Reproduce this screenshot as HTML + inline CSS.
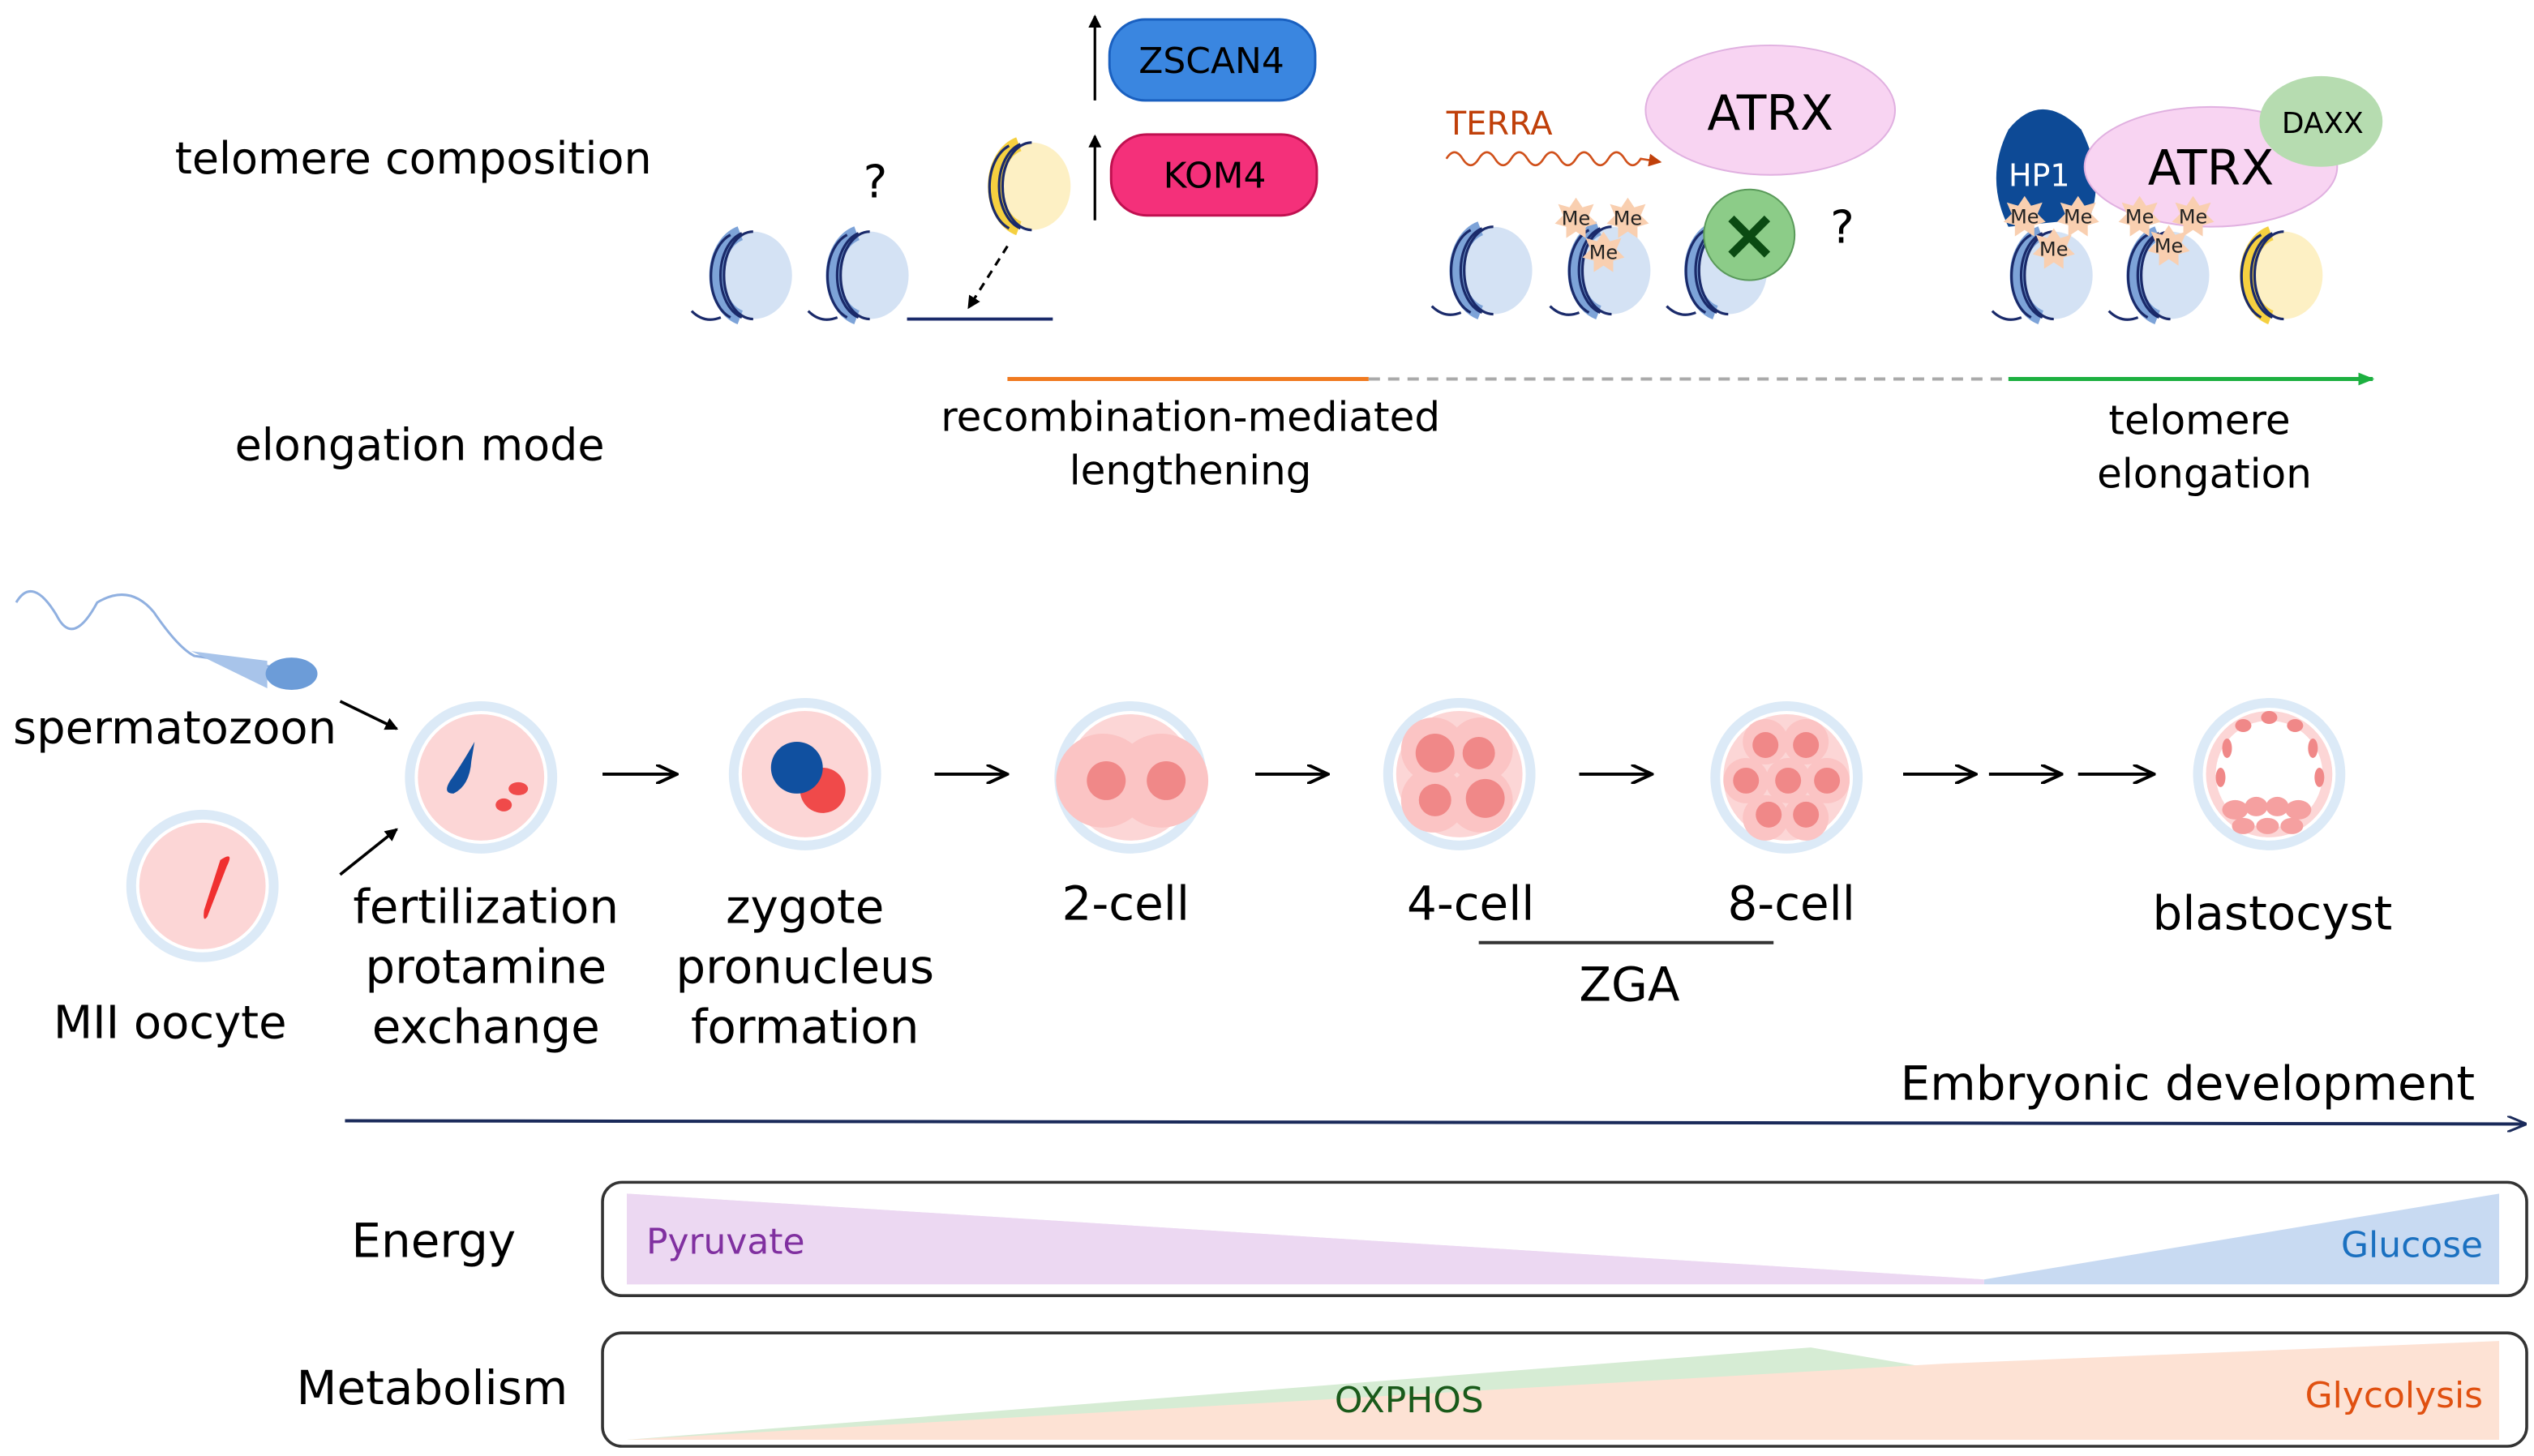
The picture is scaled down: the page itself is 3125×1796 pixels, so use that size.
<!DOCTYPE html>
<html><head><meta charset="utf-8"><style>
html,body{margin:0;padding:0;background:#fff;}
svg{display:block}
text{font-family:"DejaVu Sans","Liberation Sans",sans-serif;}
</style></head><body>
<svg width="3125" height="1796" viewBox="0 0 1564.5 899" preserveAspectRatio="none" xmlns="http://www.w3.org/2000/svg">
<defs>
<marker id="ah" markerWidth="8" markerHeight="8" refX="7" refY="4" orient="auto" markerUnits="userSpaceOnUse"><path d="M0,0 L8,4 L0,8 z" fill="#000"/></marker>
<marker id="ahn" markerWidth="12" markerHeight="10" refX="11" refY="5" orient="auto" markerUnits="userSpaceOnUse"><path d="M0,0 L12,5 L0,10" fill="none" stroke="#1a2a5a" stroke-width="1.5"/></marker>
<marker id="ahg" markerWidth="10" markerHeight="8" refX="9" refY="4" orient="auto" markerUnits="userSpaceOnUse"><path d="M0,0 L10,4 L0,8 z" fill="#1db040"/></marker>
<marker id="aho" markerWidth="8" markerHeight="8" refX="7" refY="4" orient="auto" markerUnits="userSpaceOnUse"><path d="M0,0 L8,4 L0,8 z" fill="#c0400a"/></marker>
<marker id="ahl" markerWidth="14" markerHeight="12" refX="13" refY="6" orient="auto" markerUnits="userSpaceOnUse"><path d="M0,0 L13,6 L0,12" fill="none" stroke="#000" stroke-width="2"/></marker>
<g id="nuc">
<ellipse cx="0" cy="0" rx="24" ry="27" fill="#d4e2f4"/>
<path d="M-8,-26 A20,27 0 0 0 -8,26" fill="none" stroke="#7da3d8" stroke-width="9"/>
<path d="M-14,-25 A18,27 0 0 0 -14,26 M-7,-26 A18,27 0 0 0 -7,26 M0,-27 A18,27 0 0 0 0,27" fill="none" stroke="#1a2a6a" stroke-width="1.6"/>
<path d="M-38,22 Q-30,30 -20,26" fill="none" stroke="#1a2a6a" stroke-width="1.6"/>
</g>
<g id="ynuc">
<ellipse cx="0" cy="0" rx="24" ry="27" fill="#fdf0c4"/>
<path d="M-8,-26 A20,27 0 0 0 -8,26" fill="none" stroke="#f5d040" stroke-width="9"/>
<path d="M-14,-25 A18,27 0 0 0 -14,26 M-7,-26 A18,27 0 0 0 -7,26 M0,-27 A18,27 0 0 0 0,27" fill="none" stroke="#1a2a6a" stroke-width="1.6"/>
</g>
<g id="me"><polygon points="0,-13 4,-7 11,-9 8,-2 13,3 6,5 6,12 0,8 -6,12 -6,5 -13,3 -8,-2 -11,-9 -4,-7" fill="#f9cfb0"/><text x="0" y="4" font-size="12" text-anchor="middle" fill="#222">Me</text></g>
<g id="cellbase"><circle r="47" fill="#dceaf7"/><circle r="41" fill="#fff"/><circle r="39" fill="#fcd6d6"/></g>
</defs>

<!-- top labels -->
<text x="108" y="107" font-size="27">telomere composition</text>
<text x="145" y="284" font-size="27">elongation mode</text>

<!-- left nucleosomes -->
<use href="#nuc" x="465" y="170"/>
<use href="#nuc" x="537" y="170"/>
<path d="M560,197 L650,197" stroke="#1a2a6a" stroke-width="2"/>
<use href="#ynuc" x="637" y="115"/>
<text x="533" y="122" font-size="28">?</text>
<path d="M622,152 L598,190" stroke="#000" stroke-width="1.6" stroke-dasharray="5,4" marker-end="url(#ah)"/>
<path d="M676,62 L676,10" stroke="#000" stroke-width="1.6" marker-end="url(#ah)"/>
<path d="M676,136 L676,84" stroke="#000" stroke-width="1.6" marker-end="url(#ah)"/>
<rect x="685" y="12" width="127" height="50" rx="22" fill="#3a86e0" stroke="#1a60c0" stroke-width="1.5"/>
<text x="748" y="45" font-size="22" text-anchor="middle">ZSCAN4</text>
<rect x="686" y="83" width="127" height="50" rx="22" fill="#f4307a" stroke="#c01050" stroke-width="1.5"/>
<text x="750" y="116" font-size="22" text-anchor="middle">KOM4</text>

<!-- middle -->
<text x="893" y="83" font-size="20" fill="#c0400a">TERRA</text>
<path d="M893,98 q5,-8 10,0 t10,0 t10,0 t10,0 t10,0 t10,0 t10,0 t10,0 t10,0 t10,0 t10,0 t10,0 L1025,100" fill="none" stroke="#d0501a" stroke-width="1.3" marker-end="url(#aho)"/>
<ellipse cx="1093" cy="68" rx="77" ry="40" fill="#f8d4f2" stroke="#e0b0e0"/>
<text x="1093" y="80" font-size="30" text-anchor="middle">ATRX</text>
<use href="#nuc" x="922" y="167"/>
<use href="#nuc" x="995" y="167"/>
<use href="#nuc" x="1067" y="167"/>
<use href="#me" x="973" y="135"/><use href="#me" x="1005" y="135"/><use href="#me" x="990" y="156"/>
<circle cx="1080" cy="145" r="28" fill="#8ccc88" stroke="#5a9a5a"/>
<text x="1080" y="160" font-size="44" font-weight="bold" text-anchor="middle" fill="#0a4a12">×</text>
<text x="1130" y="150" font-size="28">?</text>

<!-- right -->
<use href="#nuc" x="1268" y="170"/>
<use href="#nuc" x="1340" y="170"/>
<use href="#ynuc" x="1410" y="170"/>
<path d="M1240,80 Q1260,55 1285,80 Q1300,110 1290,135 L1240,140 Q1225,110 1240,80z" fill="#0d4a96"/>
<ellipse cx="1365" cy="103" rx="78" ry="37" fill="#f8d4f2" stroke="#e0b0e0"/>
<ellipse cx="1433" cy="75" rx="38" ry="28" fill="#b6dcb0"/>
<text x="1259" y="115" font-size="19" fill="#fff" text-anchor="middle">HP1</text>
<text x="1365" y="114" font-size="30" text-anchor="middle">ATRX</text>
<text x="1434" y="82" font-size="18" text-anchor="middle">DAXX</text>
<use href="#me" x="1250" y="134"/><use href="#me" x="1283" y="134"/><use href="#me" x="1268" y="154"/>
<use href="#me" x="1321" y="134"/><use href="#me" x="1354" y="134"/><use href="#me" x="1339" y="152"/>

<!-- elongation line -->
<path d="M622,234 L845,234" stroke="#f07a20" stroke-width="2.5"/>
<path d="M845,234 L1240,234" stroke="#aaa" stroke-width="2" stroke-dasharray="7,5"/>
<path d="M1240,234 L1465,234" stroke="#1db040" stroke-width="2.5" marker-end="url(#ahg)"/>
<text x="735" y="266" font-size="25" text-anchor="middle">recombination-mediated</text>
<text x="735" y="299" font-size="25" text-anchor="middle">lengthening</text>
<text x="1358" y="268" font-size="25" text-anchor="middle">telomere</text>
<text x="1361" y="301" font-size="25" text-anchor="middle">elongation</text>

<!-- sperm -->
<path d="M10,372 Q20,355 35,380 Q45,400 60,372 Q80,360 95,378 Q110,400 120,405 L170,412" fill="none" stroke="#90b0e0" stroke-width="1.5"/>
<path d="M118,402 L165,408 L165,425 Z" fill="#a8c4ea"/>
<ellipse cx="180" cy="416" rx="16" ry="10" fill="#6c9cd8"/>
<text x="8" y="459" font-size="28">spermatozoon</text>
<path d="M210,433 L245,450" stroke="#000" stroke-width="1.8" marker-end="url(#ah)"/>
<path d="M210,540 L245,512" stroke="#000" stroke-width="1.8" marker-end="url(#ah)"/>

<!-- MII oocyte -->
<use href="#cellbase" x="125" y="547"/>
<path d="M136,531 Q145,525 140,535 L128,566 Q125,570 126,562 Z" fill="#f03030"/>
<text x="105" y="641" font-size="28" text-anchor="middle">MII oocyte</text>

<!-- cells -->
<use href="#cellbase" x="297" y="480"/>
<path d="M293,458 Q285,472 278,482 Q273,490 280,490 Q290,485 291,470 Z" fill="#1050a0"/>
<ellipse cx="320" cy="487" rx="6" ry="4" fill="#f04a4a"/><ellipse cx="311" cy="497" rx="5" ry="4" fill="#f04a4a"/>

<use href="#cellbase" x="497" y="478"/>
<circle cx="508" cy="488" r="14" fill="#f04a4a"/>
<circle cx="492" cy="474" r="16" fill="#1050a0"/>

<use href="#cellbase" x="698" y="480"/>
<circle cx="681" cy="482" r="29" fill="#fbc4c4"/><circle cx="717" cy="482" r="29" fill="#fbc4c4"/>
<circle cx="683" cy="482" r="12" fill="#f08888"/><circle cx="720" cy="482" r="12" fill="#f08888"/>

<use href="#cellbase" x="901" y="478"/>
<circle cx="885" cy="463" r="20" fill="#fbc4c4"/><circle cx="914" cy="463" r="20" fill="#fbc4c4"/>
<circle cx="885" cy="494" r="20" fill="#fbc4c4"/><circle cx="914" cy="494" r="20" fill="#fbc4c4"/>
<circle cx="886" cy="465" r="12" fill="#f08888"/><circle cx="913" cy="465" r="10" fill="#f08888"/>
<circle cx="886" cy="494" r="10" fill="#f08888"/><circle cx="917" cy="493" r="12" fill="#f08888"/>

<use href="#cellbase" x="1103" y="480"/>
<g fill="#fbc4c4"><circle cx="1090" cy="458" r="14"/><circle cx="1115" cy="458" r="14"/><circle cx="1078" cy="482" r="14"/><circle cx="1104" cy="482" r="14"/><circle cx="1128" cy="482" r="14"/><circle cx="1090" cy="505" r="14"/><circle cx="1115" cy="505" r="14"/></g>
<g fill="#f08888"><circle cx="1090" cy="460" r="8"/><circle cx="1115" cy="460" r="8"/><circle cx="1078" cy="482" r="8"/><circle cx="1104" cy="482" r="8"/><circle cx="1128" cy="482" r="8"/><circle cx="1092" cy="503" r="8"/><circle cx="1115" cy="503" r="8"/></g>

<use href="#cellbase" x="1401" y="478"/>
<circle cx="1401" cy="478" r="33" fill="#fff"/>
<g fill="#f08888"><ellipse cx="1375" cy="462" rx="3" ry="6"/><ellipse cx="1385" cy="448" rx="5" ry="4"/><ellipse cx="1401" cy="443" rx="5" ry="4"/><ellipse cx="1417" cy="448" rx="5" ry="4"/><ellipse cx="1428" cy="462" rx="3" ry="6"/><ellipse cx="1432" cy="480" rx="3" ry="6"/><ellipse cx="1371" cy="480" rx="3" ry="6"/></g>
<g fill="#f5a0a0"><ellipse cx="1380" cy="500" rx="8" ry="6"/><ellipse cx="1393" cy="498" rx="7" ry="6"/><ellipse cx="1406" cy="498" rx="7" ry="6"/><ellipse cx="1419" cy="500" rx="8" ry="6"/><ellipse cx="1385" cy="510" rx="7" ry="5"/><ellipse cx="1400" cy="510" rx="7" ry="5"/><ellipse cx="1415" cy="510" rx="7" ry="5"/></g>

<g stroke="#000" stroke-width="2">
<path d="M372,478 L418,478" marker-end="url(#ahl)"/>
<path d="M577,478 L622,478" marker-end="url(#ahl)"/>
<path d="M775,478 L820,478" marker-end="url(#ahl)"/>
<path d="M975,478 L1020,478" marker-end="url(#ahl)"/>
<path d="M1175,478 L1220,478" marker-end="url(#ahl)"/>
<path d="M1228,478 L1273,478" marker-end="url(#ahl)"/>
<path d="M1283,478 L1330,478" marker-end="url(#ahl)"/>
</g>

<g font-size="29" text-anchor="middle">
<text x="300" y="570">fertilization</text>
<text x="300" y="607">protamine</text>
<text x="300" y="644">exchange</text>
<text x="497" y="570">zygote</text>
<text x="497" y="607">pronucleus</text>
<text x="497" y="644">formation</text>
<text x="695" y="568">2-cell</text>
<text x="908" y="568">4-cell</text>
<text x="1106" y="568">8-cell</text>
<text x="1403" y="574">blastocyst</text>
<text x="1006" y="618">ZGA</text>
</g>
<path d="M913,582 L1095,582" stroke="#333" stroke-width="2"/>
<text x="1528" y="679" font-size="29" text-anchor="end">Embryonic development</text>
<path d="M213,692 L1559,694" stroke="#1a2a5a" stroke-width="2" marker-end="url(#ahn)"/>

<!-- energy -->
<text x="217" y="776" font-size="29">Energy</text>
<rect x="372" y="730" width="1188" height="70" rx="12" fill="#fff" stroke="#333" stroke-width="1.8"/>
<polygon points="387,737 1225,790 387,793" fill="#ecd8f2"/>
<polygon points="1225,790 1543,737 1543,793 387,793 1225,793" fill="#c8daf2"/>
<polygon points="387,737 1225,790 1225,793 387,793" fill="#ecd8f2"/>
<text x="399" y="774" font-size="22" fill="#8030a0">Pyruvate</text>
<text x="1533" y="776" font-size="22" fill="#1a70c0" text-anchor="end">Glucose</text>

<!-- metabolism -->
<text x="183" y="867" font-size="29">Metabolism</text>
<rect x="372" y="823" width="1188" height="70" rx="12" fill="#fff" stroke="#333" stroke-width="1.8"/>
<polygon points="387,889 1118,832 1200,846 1200,889" fill="#d6ecd4"/>
<polygon points="387,889 1200,842 1543,828 1543,889" fill="#fde2d4"/>
<text x="870" y="872" font-size="22" fill="#1a5a1a" text-anchor="middle">OXPHOS</text>
<text x="1533" y="869" font-size="22" fill="#e05010" text-anchor="end">Glycolysis</text>
</svg>
</body></html>
